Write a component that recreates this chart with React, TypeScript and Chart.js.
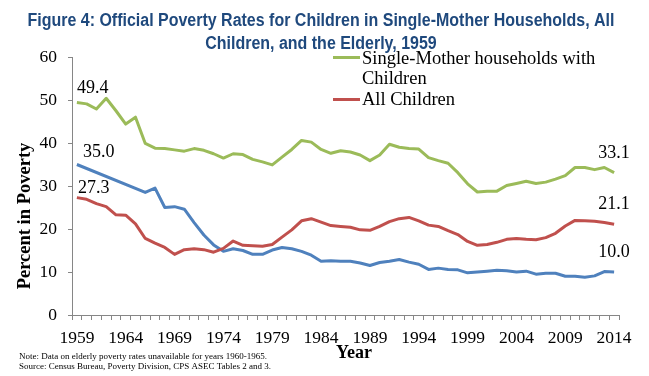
import React, { useEffect, useRef } from "react";
import { Chart, registerables } from "chart.js";

Chart.register(...registerables);

const years = [
  "1959", "1960", "1961", "1962", "1963", "1964", "1965", "1966", "1967", "1968",
  "1969", "1970", "1971", "1972", "1973", "1974", "1975", "1976", "1977", "1978",
  "1979", "1980", "1981", "1982", "1983", "1984", "1985", "1986", "1987", "1988",
  "1989", "1990", "1991", "1992", "1993", "1994", "1995", "1996", "1997", "1998",
  "1999", "2000", "2001", "2002", "2003", "2004", "2005", "2006", "2007", "2008",
  "2009", "2010", "2011", "2012", "2013", "2014",
];

const singleMother = [
  49.4, 49.1, 47.9, 50.4, 47.5, 44.4, 46.0, 39.9, 38.8, 38.7,
  38.4, 38.1, 38.7, 38.3, 37.5, 36.5, 37.5, 37.3, 36.2, 35.6,
  34.9, 36.7, 38.5, 40.6, 40.2, 38.5, 37.6, 38.2, 37.9, 37.2,
  35.9, 37.2, 39.7, 39.0, 38.7, 38.6, 36.6, 35.9, 35.3, 33.1,
  30.5, 28.6, 28.8, 28.8, 30.1, 30.6, 31.1, 30.6, 30.9, 31.6,
  32.4, 34.3, 34.3, 33.8, 34.3, 33.1,
];

const allChildren = [
  27.3, 26.9, 25.9, 25.2, 23.3, 23.2, 21.2, 17.8, 16.7, 15.7,
  14.1, 15.2, 15.4, 15.2, 14.6, 15.5, 17.2, 16.2, 16.1, 16.0,
  16.4, 18.1, 19.8, 21.9, 22.4, 21.6, 20.8, 20.6, 20.4, 19.8,
  19.7, 20.6, 21.7, 22.4, 22.7, 21.9, 20.9, 20.6, 19.6, 18.7,
  17.1, 16.2, 16.4, 16.9, 17.6, 17.8, 17.6, 17.5, 18.0, 19.0,
  20.7, 22.0, 21.9, 21.8, 21.5, 21.1,
];

// Elderly: unavailable 1960-1965
const elderly = [
  35.0, null, null, null, null, null, null, 28.5, 29.5, 25.0,
  25.2, 24.6, 21.5, 18.6, 16.3, 14.8, 15.4, 15.0, 14.1, 14.1,
  15.1, 15.7, 15.4, 14.8, 13.9, 12.5, 12.6, 12.5, 12.5, 12.1,
  11.5, 12.2, 12.5, 12.9, 12.3, 11.8, 10.6, 10.9, 10.6, 10.5,
  9.8, 10.0, 10.2, 10.4, 10.3, 10.0, 10.2, 9.5, 9.7, 9.7,
  9.0, 9.0, 8.8, 9.1, 10.1, 10.0,
];

const xTickLabels = ["1959", "1964", "1969", "1974", "1979", "1984", "1989", "1994", "1999", "2004", "2009", "2014"];
const yMin = 0;
const yMax = 60;
const yStep = 10;

const titleLines = [
  "Figure 4: Official Poverty Rates for Children in Single-Mother Households, All",
  "Children, and the Elderly, 1959",
];
const legendSingleMother = ["Single-Mother households with", "Children"];
const legendAllChildren = ["All Children"];
const yAxisTitle = "Percent in Poverty";
const xAxisTitle = "Year";
const noteLines = [
  "Note: Data on elderly poverty rates unavailable for years 1960-1965.",
  "Source: Census Bureau, Poverty Division, CPS ASEC Tables 2 and 3.",
];

const GREEN = "#9BBB59";
const RED = "#C0504D";
const BLUE = "#4F81BD";
const AXIS = "#868686";
const TITLE_COLOR = "#1F497D";
const SERIF = "'Liberation Serif','Times New Roman',serif";
const NARROW = "'Liberation Sans Narrow','Arial Narrow','Liberation Sans',Arial,sans-serif";

const overlayPlugin = {
  id: "overlay",
  afterDraw(chart: any) {
    const ctx: CanvasRenderingContext2D = chart.ctx;
    const xs = chart.scales.x;
    const ys = chart.scales.y;
    ctx.save();

    // Title (narrow bold sans)
    ctx.fillStyle = TITLE_COLOR;
    ctx.font = `bold 18px ${NARROW}`;
    ctx.textAlign = "center";
    ctx.textBaseline = "alphabetic";
    const w0 = ctx.measureText(titleLines[0]).width;
    const sx = Math.min(1, 587 / w0);
    [25.5, 48.5].forEach((by, i) => {
      ctx.save();
      ctx.translate(321, by);
      ctx.scale(sx, 1);
      ctx.fillText(titleLines[i], 0, 0);
      ctx.restore();
    });

    // Y axis title
    ctx.fillStyle = "#000";
    ctx.font = `bold 18.5px ${SERIF}`;
    ctx.save();
    ctx.translate(25, 216);
    ctx.rotate(-Math.PI / 2);
    ctx.textAlign = "center";
    ctx.textBaseline = "middle";
    ctx.fillText(yAxisTitle, 0, 0);
    ctx.restore();

    // X axis title
    ctx.font = `bold 18px ${SERIF}`;
    ctx.textAlign = "center";
    ctx.textBaseline = "alphabetic";
    ctx.fillText(xAxisTitle, 354, 358);

    // Notes
    ctx.font = `9px ${SERIF}`;
    ctx.textAlign = "left";
    ctx.fillText(noteLines[0], 19, 359);
    ctx.fillText(noteLines[1], 19, 369);

    // Legend
    ctx.font = `18.5px ${SERIF}`;
    ctx.lineWidth = 3;
    ctx.strokeStyle = GREEN;
    ctx.beginPath();
    ctx.moveTo(333, 57.5);
    ctx.lineTo(360, 57.5);
    ctx.stroke();
    ctx.fillText(legendSingleMother[0], 362, 63.5);
    ctx.fillText(legendSingleMother[1], 362, 84);
    ctx.strokeStyle = RED;
    ctx.beginPath();
    ctx.moveTo(333, 99.5);
    ctx.lineTo(360, 99.5);
    ctx.stroke();
    ctx.fillText(legendAllChildren[0], 362, 105);

    // Data labels at first and last points
    const last = years.length - 1;
    ctx.font = `18px ${SERIF}`;
    const label = (v: number, i: number, dx: number, dy: number, align: CanvasTextAlign) => {
      const px = xs.getPixelForValue(i);
      const py = ys.getPixelForValue(v);
      ctx.textAlign = align;
      ctx.fillText(v.toFixed(1), px + dx, py + dy);
    };
    label(singleMother[0], 0, 0, -9.5, "left");
    label(elderly[0] as number, 0, 6, -7.5, "left");
    label(allChildren[0], 0, 1, -4.5, "left");
    label(singleMother[last], last, 0, -14.5, "center");
    label(allChildren[last], last, 0, -15, "center");
    label(elderly[last] as number, last, 0, -15, "center");

    ctx.restore();
  },
};

export default function App() {
  const canvasRef = useRef<HTMLCanvasElement | null>(null);

  useEffect(() => {
    document.body.style.margin = "0";
    const canvas = canvasRef.current;
    if (!canvas) return;
    const chart = new Chart(canvas, {
      type: "line",
      data: {
        labels: years,
        datasets: [
          {
            label: "Single-Mother households with Children",
            data: singleMother,
            borderColor: GREEN,
            backgroundColor: GREEN,
            borderWidth: 3,
            pointRadius: 0,
            tension: 0,
            borderJoinStyle: "round",
          },
          {
            label: "All Children",
            data: allChildren,
            borderColor: RED,
            backgroundColor: RED,
            borderWidth: 3,
            pointRadius: 0,
            tension: 0,
            borderJoinStyle: "round",
          },
          {
            label: "Elderly",
            data: elderly,
            borderColor: BLUE,
            backgroundColor: BLUE,
            borderWidth: 3,
            pointRadius: 0,
            tension: 0,
            spanGaps: true,
            borderJoinStyle: "round",
          },
        ],
      },
      options: {
        responsive: false,
        animation: false,
        devicePixelRatio: 1,
        layout: { padding: { top: 57, right: 30, left: 0, bottom: 0 } },
        plugins: {
          legend: { display: false },
          title: { display: false },
          tooltip: { enabled: false },
        },
        scales: {
          x: {
            type: "category",
            offset: true,
            grid: {
              offset: true,
              drawOnChartArea: false,
              drawTicks: true,
              tickLength: 5,
              color: AXIS,
            },
            border: { display: true, color: AXIS, width: 1 },
            ticks: {
              autoSkip: false,
              maxRotation: 0,
              minRotation: 0,
              padding: 8,
              color: "#000",
              font: { family: SERIF, size: 17.5 },
              callback: (_v: any, i: number) => (xTickLabels.includes(years[i]) ? years[i] : ""),
            },
            afterFit: (s: any) => {
              s.height = 61;
            },
          },
          y: {
            min: yMin,
            max: yMax,
            grid: {
              drawOnChartArea: false,
              drawTicks: true,
              tickLength: 4,
              color: AXIS,
            },
            border: { display: true, color: AXIS, width: 1 },
            ticks: {
              stepSize: yStep,
              padding: 11,
              color: "#000",
              font: { family: SERIF, size: 17.5 },
            },
            afterFit: (s: any) => {
              s.width = 72;
            },
          },
        },
      },
      plugins: [overlayPlugin],
    });
    return () => chart.destroy();
  }, []);

  return (
    <div style={{ width: 649, height: 376, background: "#fff" }}>
      <canvas ref={canvasRef} width={649} height={376} />
    </div>
  );
}
